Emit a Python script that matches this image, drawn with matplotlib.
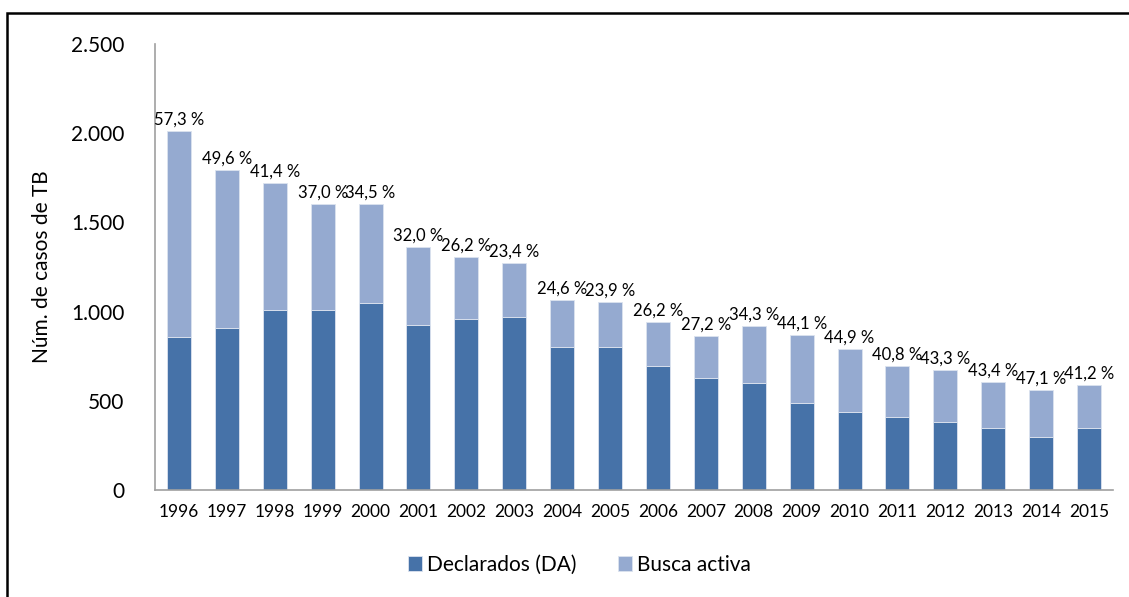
import matplotlib.pyplot as plt
from matplotlib.patches import Rectangle

years = [str(y) for y in range(1996, 2016)]
declarados = [857, 907, 1008, 1008, 1048, 925, 960, 972, 801, 801,
              694, 627, 601, 486, 436, 410, 381, 345, 297, 346]
busca = [1153, 885, 711, 593, 553, 436, 345, 299, 263, 252,
         247, 235, 317, 382, 353, 284, 291, 260, 263, 242]
pct = ["57,3 %", "49,6 %", "41,4 %", "37,0 %", "34,5 %", "32,0 %", "26,2 %",
       "23,4 %", "24,6 %", "23,9 %", "26,2 %", "27,2 %", "34,3 %", "44,1 %",
       "44,9 %", "40,8 %", "43,3 %", "43,4 %", "47,1 %", "41,2 %"]

plt.rcParams['font.family'] = ['Lato', 'DejaVu Sans']

fig = plt.figure(figsize=(11.29, 5.97), dpi=100)
ax = fig.add_axes([0.1373, 0.1792, 0.8485, 0.7471])

dark = '#4672A8'
light = '#95AAD0'
x = range(len(years))
ax.bar(x, declarados, width=0.5, color=dark, edgecolor='#DCE3EF', linewidth=0.6, label='Declarados (DA)')
ax.bar(x, busca, width=0.5, bottom=declarados, color=light, edgecolor='#DCE3EF', linewidth=0.6, label='Busca activa')

for i in x:
    total = declarados[i] + busca[i]
    ax.text(i, total + 20, pct[i], ha='center', va='bottom', fontsize=12)

ax.set_xlim(-0.5, len(years) - 0.5)
ax.set_ylim(0, 2500)
ax.set_yticks([0, 500, 1000, 1500, 2000, 2500])
ax.set_yticklabels(['0', '500', '1.000', '1.500', '2.000', '2.500'], fontsize=15)
ax.set_xticks(list(x))
ax.set_xticklabels(years, fontsize=12.5)
ax.tick_params(length=0)
ax.tick_params(axis='y', pad=22)
ax.tick_params(axis='x', pad=10)
for s in ['top', 'right']:
    ax.spines[s].set_visible(False)
for s in ['left', 'bottom']:
    ax.spines[s].set_color('#A0A0A0')
    ax.spines[s].set_linewidth(1.2)
ax.set_ylabel('Núm. de casos de TB', fontsize=15, labelpad=14)

fig.legend(loc='center', bbox_to_anchor=(0.513, 0.054), ncol=2, frameon=False,
           fontsize=15, handlelength=0.7, handleheight=0.7, handletextpad=0.2, columnspacing=2.0)

fig.patches.append(Rectangle((7 / 1129, -0.1), 1.2, 0.1 + 1 - 13 / 597, transform=fig.transFigure,
                             fill=False, edgecolor='black', linewidth=1.8, clip_on=False))

fig.savefig('out.png', dpi=100)
